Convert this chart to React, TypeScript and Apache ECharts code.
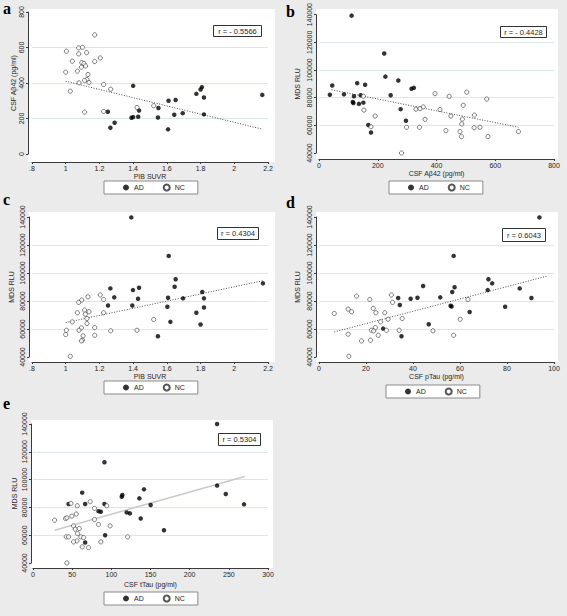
import React, { useEffect, useRef } from "react";
import * as echarts from "echarts";

// ---------- DATA ----------
// Panel a: PIB SUVR (x) vs CSF Aβ42 (y)
const aAD: [number, number][] = [
  [1.40, 384], [1.25, 238], [1.265, 148], [1.29, 176], [1.39, 204], [1.40, 208],
  [1.435, 245], [1.43, 210], [1.55, 259], [1.547, 206], [1.61, 300], [1.652, 304],
  [1.607, 139], [1.644, 221], [1.694, 230], [1.775, 339], [1.80, 363], [1.808, 377],
  [1.82, 318], [1.82, 223], [2.166, 333],
];
const aNC: [number, number][] = [
  [1.00, 461], [1.004, 579], [1.172, 671], [1.077, 598], [1.099, 601], [1.039, 523],
  [1.077, 564], [1.124, 571], [1.205, 541], [1.172, 521], [1.095, 515], [1.108, 510],
  [1.118, 496], [1.093, 489], [1.069, 467], [1.132, 448], [1.126, 420], [1.112, 414],
  [1.138, 403], [1.079, 401], [1.225, 392], [1.267, 365], [1.027, 354], [1.112, 236],
  [1.225, 240], [1.423, 262], [1.522, 272],
];
const aFit: [number, number][] = [[1.0, 410], [2.17, 139]];

// Panel b: CSF Aβ42 (x) vs MDS RLU (y)
const bAD: [number, number][] = [
  [111, 139300], [222, 111900], [45, 88800], [37, 82100], [85, 82400], [130, 90500],
  [115, 76900], [117, 76200], [119, 81000], [136, 75500], [142, 81700], [157, 89300],
  [151, 76400], [168, 60200], [177, 54800], [226, 95200], [244, 81700], [270, 92400],
  [278, 71700], [296, 63300], [315, 86400], [323, 87100],
];
const bNC: [number, number][] = [
  [151, 81000], [153, 71000], [191, 66700], [177, 59000], [281, 40000], [298, 58600],
  [342, 58600], [330, 71700], [344, 72100], [355, 73300], [361, 64300], [395, 82900],
  [412, 71400], [432, 56200], [443, 81000], [449, 66700], [480, 55500], [485, 51900],
  [488, 64500], [486, 61000], [491, 74500], [503, 84000], [529, 67400], [528, 58300],
  [548, 58600], [571, 79000], [575, 51900], [679, 55500],
];
const bFit: [number, number][] = [[43, 85700], [679, 58600]];

// Panel c: PIB SUVR (x) vs MDS RLU (y)
const cAD: [number, number][] = [
  [1.389, 139700], [1.611, 112200], [1.652, 95500], [1.646, 90200], [1.607, 82300],
  [1.696, 81900], [1.81, 86400], [1.82, 81900], [1.82, 75400], [1.775, 71600],
  [1.80, 63200], [1.621, 65100], [1.603, 75900], [1.547, 54800], [1.399, 87800],
  [1.395, 76800], [1.435, 89500], [1.429, 81600], [1.265, 89000], [1.288, 82600],
  [1.251, 76800], [2.17, 92600],
];
const cNC: [number, number][] = [
  [1.004, 59100], [1.0, 56000], [1.039, 65100], [1.069, 71600], [1.077, 79000],
  [1.095, 80700], [1.132, 83000], [1.205, 84300], [1.225, 81100], [1.225, 71600],
  [1.112, 73500], [1.116, 70600], [1.138, 72300], [1.126, 67500], [1.126, 63900],
  [1.093, 60800], [1.079, 59100], [1.103, 55100], [1.099, 52000], [1.093, 51500],
  [1.172, 61000], [1.172, 55500], [1.267, 58700], [1.027, 40500], [1.423, 59100],
  [1.522, 66800],
];
const cFit: [number, number][] = [[1.0, 64600], [2.17, 94500]];

// Panel d: CSF pTau (x) vs MDS RLU (y)
const dAD: [number, number][] = [
  [93.8, 139700], [57.3, 112200], [72.1, 95500], [73.7, 92600], [57.7, 89800],
  [71.8, 87800], [56.7, 86400], [44.3, 90700], [85.4, 89000], [90.4, 82100],
  [33.7, 82100], [39.0, 81600], [41.9, 82300], [51.6, 82600], [34.4, 77100],
  [56.0, 76600], [56.4, 76100], [64.1, 72100], [79.2, 75900], [46.7, 63400],
  [27.3, 60300], [35.1, 54800],
];
const dNC: [number, number][] = [
  [6.5, 71100], [16.0, 83500], [12.4, 74200], [13.9, 72300], [12.4, 56300],
  [12.7, 40500], [18.1, 51500], [21.6, 81100], [23.1, 74700], [24.2, 71600],
  [26.2, 65100], [24.0, 61000], [22.3, 59100], [23.3, 58600], [25.2, 55500],
  [21.9, 52000], [28.0, 71600], [29.4, 67000], [28.7, 59100], [30.8, 84300],
  [31.3, 79000], [34.1, 59100], [35.4, 67500], [48.5, 58700], [57.3, 55500],
  [60.1, 67000], [63.4, 81100],
];
const dFit: [number, number][] = [[6.5, 57900], [97.3, 97900]];

// Panel e: CSF tTau (x) vs MDS RLU (y)
const eAD: [number, number][] = [
  [235, 140000], [91.2, 112500], [235, 95700], [141.7, 93000], [246.1, 89600],
  [269.4, 82200], [135.8, 86500], [113.3, 87700], [114.1, 88900], [150.2, 81700],
  [62.8, 90600], [45.4, 82400], [66.6, 82400], [91.2, 82400], [83.6, 77300],
  [86.6, 76900], [119.6, 76400], [123.7, 75700], [137.5, 72000], [167.2, 63600],
  [92.1, 60000], [66.6, 54700],
];
const eNC: [number, number][] = [
  [27.6, 70800], [41.6, 72000], [43.3, 72500], [48.4, 82900], [49.6, 73700],
  [55.2, 75200], [56.5, 81200], [73.0, 84100], [78.5, 79300], [94.2, 81200],
  [78.5, 71300], [83.6, 67700], [98.4, 66700], [51.8, 66700], [53.9, 64300],
  [59.0, 64800], [56.9, 61200], [42.4, 58800], [45.4, 58800], [61.1, 58800],
  [64.5, 58300], [56.0, 55900], [51.8, 55200], [62.8, 51600], [70.9, 51100],
  [86.6, 55200], [120.9, 58800], [43.3, 40000],
];
const eFit: [number, number][] = [[27.6, 63600], [270.3, 102200]];

// Axis scales and texts
const pibScale = { min: 0.8, max: 2.2, interval: 0.2 };
const abScaleY = { min: 0, max: 800, interval: 200 };
const abScaleX = { min: 0, max: 800, interval: 200 };
const mdsScale = { min: 40000, max: 140000, interval: 20000 };
const ptauScale = { min: 0, max: 100, interval: 20 };
const ttauScale = { min: 0, max: 300, interval: 50 };

const rTexts = ["r = - 0.5566", "r = - 0.4428", "r = 0.4304", "r = 0.6043", "r = 0.5304"];
const panelLetters = ["a", "b", "c", "d", "e"];
const xTitles = ["PIB SUVR", "CSF Aβ42 (pg/ml)", "PIB SUVR", "CSF pTau (pg/ml)", "CSF tTau (pg/ml)"];
const yTitles = ["CSF Aβ42 (pg/ml)", "MDS RLU", "MDS RLU", "MDS RLU", "MDS RLU"];
const groupNames = ["AD", "NC"];

// ---------- LAYOUT ----------
const FONT = '"Liberation Sans", Arial, Helvetica, sans-serif';
const TXT = "#262626";
const AXIS = "#3a3a3a";

type Panel = {
  ad: [number, number][];
  nc: [number, number][];
  fit: [number, number][];
  solidFit: boolean;
  xs: { min: number; max: number; interval: number };
  ys: { min: number; max: number; interval: number };
  pib: boolean;
  grid: [number, number, number, number];
  plot: [number, number, number, number];
  yOff: number;
  xOff: number;
  yGap: number;
  xGap: number;
  legend: [number, number];
  rBox: [number, number, number, number];
  letter: [number, number];
};

const panels: Panel[] = [
  {
    ad: aAD, nc: aNC, fit: aFit, solidFit: false, xs: pibScale, ys: abScaleY, pib: true,
    grid: [32, 12, 236, 142], plot: [28, 9, 275, 162], yOff: 4, xOff: 8, yGap: 11, xGap: 9,
    legend: [104, 181], rBox: [213, 25, 48, 11], letter: [3, 0],
  },
  {
    ad: bAD, nc: bNC, fit: bFit, solidFit: false, xs: abScaleX, ys: mdsScale, pib: false,
    grid: [319, 13, 235, 140], plot: [316, 9, 558, 159], yOff: 3, xOff: 6, yGap: 15, xGap: 11,
    legend: [389, 181], rBox: [500, 26, 46, 11], letter: [286, 3],
  },
  {
    ad: cAD, nc: cNC, fit: cFit, solidFit: false, xs: pibScale, ys: mdsScale, pib: true,
    grid: [32, 217, 236, 140], plot: [29, 212, 275, 362], yOff: 3, xOff: 5, yGap: 14, xGap: 9,
    legend: [104, 381], rBox: [217, 227, 41, 12], letter: [3, 191],
  },
  {
    ad: dAD, nc: dNC, fit: dFit, solidFit: false, xs: ptauScale, ys: mdsScale, pib: false,
    grid: [319, 217, 235, 140], plot: [316, 212, 558, 362], yOff: 3, xOff: 5, yGap: 15, xGap: 11,
    legend: [386, 385], rBox: [502, 228, 43, 13], letter: [286, 194],
  },
  {
    ad: eAD, nc: eNC, fit: eFit, solidFit: true, xs: ttauScale, ys: mdsScale, pib: false,
    grid: [33, 424, 235, 139], plot: [31, 420, 273, 568], yOff: 2, xOff: 5, yGap: 13, xGap: 13,
    legend: [104, 592], rBox: [218, 433, 42, 12], letter: [3, 395],
  },
];

const pibFmt = (v: number) => {
  const s = String(Math.round(v * 10) / 10);
  return s.startsWith("0.") ? s.slice(1) : s;
};
const plainFmt = (v: number) => String(Math.round(v));

function buildOption() {
  const grid = panels.map((p) => ({
    left: p.grid[0], top: p.grid[1], width: p.grid[2], height: p.grid[3], containLabel: false,
  }));
  const xAxis = panels.map((p, i) => ({
    type: "value", gridIndex: i, min: p.xs.min, max: p.xs.max, interval: p.xs.interval,
    offset: p.xOff,
    axisLine: { show: true, onZero: false, lineStyle: { color: AXIS, width: 1 } },
    axisTick: { show: true, length: 2, lineStyle: { color: AXIS, width: 1 } },
    axisLabel: {
      fontSize: 7, color: TXT, fontFamily: FONT, margin: 3, showMinLabel: true, showMaxLabel: true,
      formatter: p.pib ? pibFmt : plainFmt,
    },
    splitLine: { show: false },
    name: xTitles[i], nameLocation: "middle", nameGap: p.xGap,
    nameTextStyle: { fontSize: 7, color: TXT, fontFamily: FONT, verticalAlign: "top" },
  }));
  const yAxis = panels.map((p, i) => ({
    type: "value", gridIndex: i, min: p.ys.min, max: p.ys.max, interval: p.ys.interval,
    offset: p.yOff,
    axisLine: { show: true, onZero: false, lineStyle: { color: AXIS, width: 1 } },
    axisTick: { show: true, length: 2, lineStyle: { color: AXIS, width: 1 } },
    axisLabel: {
      fontSize: 7, color: TXT, fontFamily: FONT, margin: 3, rotate: 90,
      showMinLabel: true, showMaxLabel: true, formatter: plainFmt,
    },
    splitLine: {
      show: true, showMinLine: false, showMaxLine: false,
      lineStyle: { color: "#dbe6e8", width: 1 },
    },
    name: yTitles[i], nameLocation: "middle", nameGap: p.yGap,
    nameTextStyle: { fontSize: 7, color: TXT, fontFamily: FONT },
  }));
  const series: any[] = [];
  panels.forEach((p, i) => {
    series.push({
      type: "line", name: "Fit", xAxisIndex: i, yAxisIndex: i, data: p.fit,
      showSymbol: false, silent: true, z: 3,
      lineStyle: p.solidFit
        ? { color: "#c9c9c9", width: 1.5, type: "solid" }
        : { color: "#4a4a4a", width: 1, type: [1, 1.6] },
    });
    series.push({
      type: "scatter", name: groupNames[0], xAxisIndex: i, yAxisIndex: i, data: p.ad,
      symbol: "circle", symbolSize: 4.5, itemStyle: { color: "#000" }, z: 4,
    });
    series.push({
      type: "scatter", name: groupNames[1], xAxisIndex: i, yAxisIndex: i, data: p.nc,
      symbol: "circle", symbolSize: 4.2,
      itemStyle: { color: "#ffffff", borderColor: "#2a2a2a", borderWidth: 0.75 }, z: 4,
    });
  });
  const legend = panels.map((p) => ({
    left: p.legend[0], top: p.legend[1], orient: "horizontal",
    data: groupNames, itemWidth: 6, itemHeight: 6, itemGap: 19,
    padding: [2, 13, 2, 19], backgroundColor: "#ffffff", borderColor: "#8a8a8a",
    borderWidth: 1, selectedMode: false,
    textStyle: { fontSize: 7, color: TXT, fontFamily: FONT, lineHeight: 9 },
  }));
  const graphic: any[] = [];
  panels.forEach((p, i) => {
    graphic.push({
      type: "rect", z: -1, silent: true,
      shape: { x: p.plot[0], y: p.plot[1], width: p.plot[2] - p.plot[0], height: p.plot[3] - p.plot[1] },
      style: { fill: "#ffffff" },
    });
    graphic.push({
      type: "rect", z: 50, silent: true,
      shape: { x: p.rBox[0] + 0.5, y: p.rBox[1] + 0.5, width: p.rBox[2], height: p.rBox[3] },
      style: { fill: "#ffffff", stroke: "#333333", lineWidth: 1 },
    });
    graphic.push({
      type: "text", z: 51, silent: true,
      x: p.rBox[0] + p.rBox[2] / 2 + 0.5, y: p.rBox[1] + p.rBox[3] / 2 + 0.5,
      style: {
        text: rTexts[i], fill: TXT, font: `7.5px ${FONT}`,
        textAlign: "center", textVerticalAlign: "middle",
      },
    });
    graphic.push({
      type: "text", z: 51, silent: true,
      x: p.letter[0], y: p.letter[1],
      style: {
        text: panelLetters[i], fill: "#000",
        font: `bold 16px "Liberation Serif", "Times New Roman", serif`,
        textAlign: "left", textVerticalAlign: "top",
      },
    });
  });
  return {
    animation: false,
    backgroundColor: "#ebebeb",
    grid, xAxis, yAxis, series, legend, graphic,
  };
}

export default function App() {
  const ref = useRef<HTMLDivElement>(null);
  useEffect(() => {
    document.body.style.margin = "0";
    if (!ref.current) return;
    const chart = echarts.init(ref.current, undefined, { renderer: "svg" });
    chart.setOption(buildOption() as any);
    return () => chart.dispose();
  }, []);
  return <div ref={ref} style={{ width: 567, height: 616 }} />;
}
